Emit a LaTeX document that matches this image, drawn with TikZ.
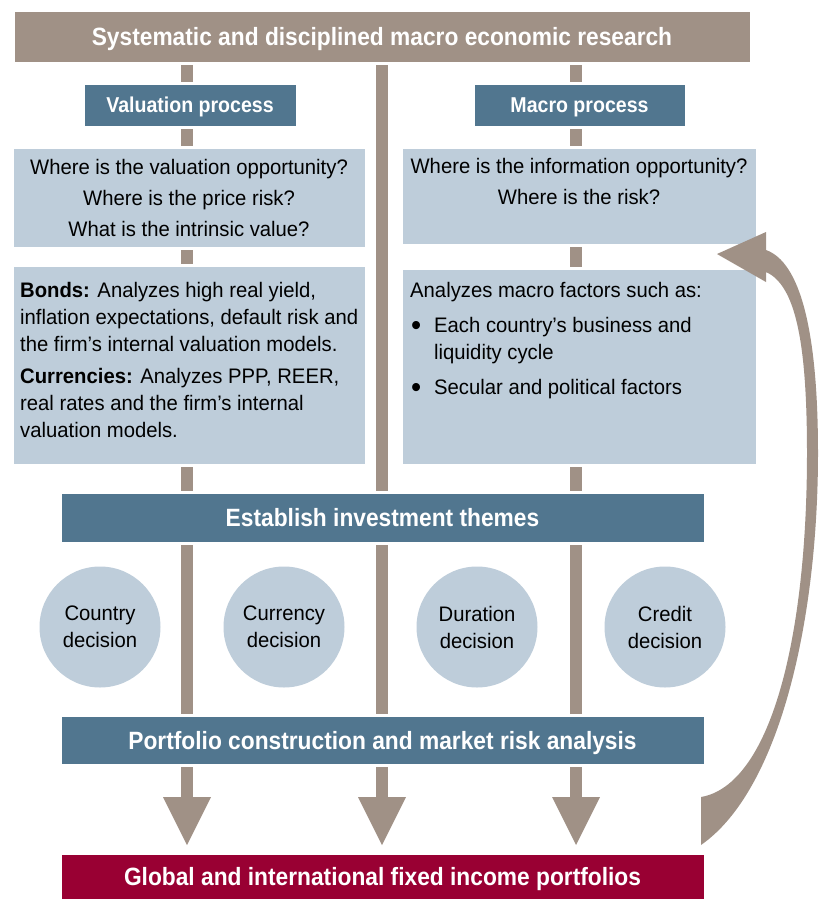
\documentclass[tikz,border=0pt]{standalone}
\usepackage{fontspec}
\setmainfont{Liberation Sans}[FakeStretch=0.965]
\newfontfamily\headfont{Liberation Sans}[FakeStretch=0.91]
\usetikzlibrary{arrows.meta, positioning, backgrounds}
\definecolor{taupe}{RGB}{160,145,134}
\definecolor{steel}{RGB}{81,118,143}
\definecolor{paleblue}{RGB}{190,205,218}
\definecolor{crimson}{RGB}{153,0,51}
\newcommand\bulletmark{\makebox[24pt][l]{\hspace{1pt}\raisebox{-3pt}{\fontsize{30}{30}\selectfont\textbullet}}}

\begin{document}
\begin{tikzpicture}[x=1pt, y=-1pt,
  panel/.style={rectangle, draw=white, line width=3pt, inner sep=0pt, outer sep=0pt},
  heading/.style={panel, fill=steel, text=white, text height=18pt, text depth=0pt,
                  font=\headfont\bfseries\fontsize{25}{30}\selectfont},
  subheading/.style={heading, text height=15.5pt,
                     font=\headfont\bfseries\fontsize{21.5}{25}\selectfont},
  infobox/.style={panel, fill=paleblue},
  boxtext/.style={inner sep=0pt, align=left, font=\fontsize{21}{27}\selectfont},
  decision/.style={circle, fill=paleblue, minimum size=121pt, inner sep=0pt,
                   align=center, font=\fontsize{21}{27}\selectfont},
  pipe/.style={taupe, line width=12pt, shorten >=8pt,
               -{Triangle[width=48pt, length=48pt, line width=0pt]}}
]
\useasboundingbox (0,0) rectangle (827,900);

% research header
\node[heading, fill=taupe, minimum width=738pt, minimum height=53pt] (research) at (382,36.5)
      {Systematic and disciplined macro economic research};

% the two processes
\node[subheading, minimum width=214pt, minimum height=44pt] (valuation) at (190,105) {Valuation process};
\node[subheading, minimum width=213pt, minimum height=44pt] (macro) at (579.5,105) {Macro process};

% questions
\node[infobox, align=center, font=\fontsize{21}{31}\selectfont,
      minimum width=354pt, minimum height=101pt] (valq) at (189,197.5)
      {Where is the valuation opportunity?\\Where is the price risk?\\What is the intrinsic value?};
\node[infobox, minimum width=356pt, minimum height=98pt] (macq) at (579,196) {};
\node[boxtext, align=center, font=\fontsize{21}{31}\selectfont, anchor=north,
      below=11pt of macq.north] (macqtext)
      {Where is the information opportunity?\\Where is the risk?};

% analysis boxes
\node[infobox, minimum width=354pt, minimum height=200pt] (valdetail) at (189,365) {};
\node[boxtext, anchor=north west, below right=17pt and 8pt of valdetail.north west] (valtext)
      {{\bfseries Bonds:} Analyzes high real yield,\\
       inflation expectations, default risk and\\
       the firm’s internal valuation models.\\[5pt]
       {\bfseries Currencies:} Analyzes PPP, REER,\\
       real rates and the firm’s internal\\
       valuation models.};
\node[infobox, minimum width=356pt, minimum height=197pt] (macdetail) at (579,366.5) {};
\node[boxtext, font=\fontsize{21}{27.5}\selectfont, anchor=north west,
      below right=14pt and 9pt of macdetail.north west] (mactext)
      {Analyzes macro factors such as:\\[7.5pt]
       \bulletmark Each country’s business and\\
       \makebox[24pt]{}liquidity cycle\\[7.5pt]
       \bulletmark Secular and political factors};

% themes and decisions
\node[heading, minimum width=645pt, minimum height=51pt] (themes) at (382.5,517.5)
      {Establish investment themes};
\node[decision] (country)  at (100,627) {Country\\decision};
\node[decision] (currency) at (284,627) {Currency\\decision};
\node[decision] (duration) at (477,627) {Duration\\decision};
\node[decision] (credit)   at (665,627) {Credit\\decision};

% portfolio and output
\node[heading, minimum width=645pt, minimum height=50pt] (portfolio) at (382.5,740)
      {Portfolio construction and market risk analysis};
\node[heading, fill=crimson, minimum width=645pt, minimum height=47pt] (global) at (382.5,876.5)
      {Global and international fixed income portfolios};

% vertical pipes behind the boxes
\coordinate (leftcol)  at (187,0);
\coordinate (midcol)   at (382,0);
\coordinate (rightcol) at (576,0);
\begin{scope}[on background layer]
  \foreach \c in {leftcol, midcol, rightcol}
    \draw[pipe] (research.south -| \c) -- (global.north -| \c);
\end{scope}

% feedback arrow
\fill[taupe] (766,250) .. controls (800,262) and (818,330) .. (818,453)
  .. controls (818,620) and (780,790) .. (701,845) -- (701,797)
  .. controls (770,785) and (807,640) .. (807,453)
  .. controls (807,340) and (795,285) .. (766,272)
  -- (766,282) -- (717,254) -- (766,232) -- cycle;
\end{tikzpicture}
\end{document}
